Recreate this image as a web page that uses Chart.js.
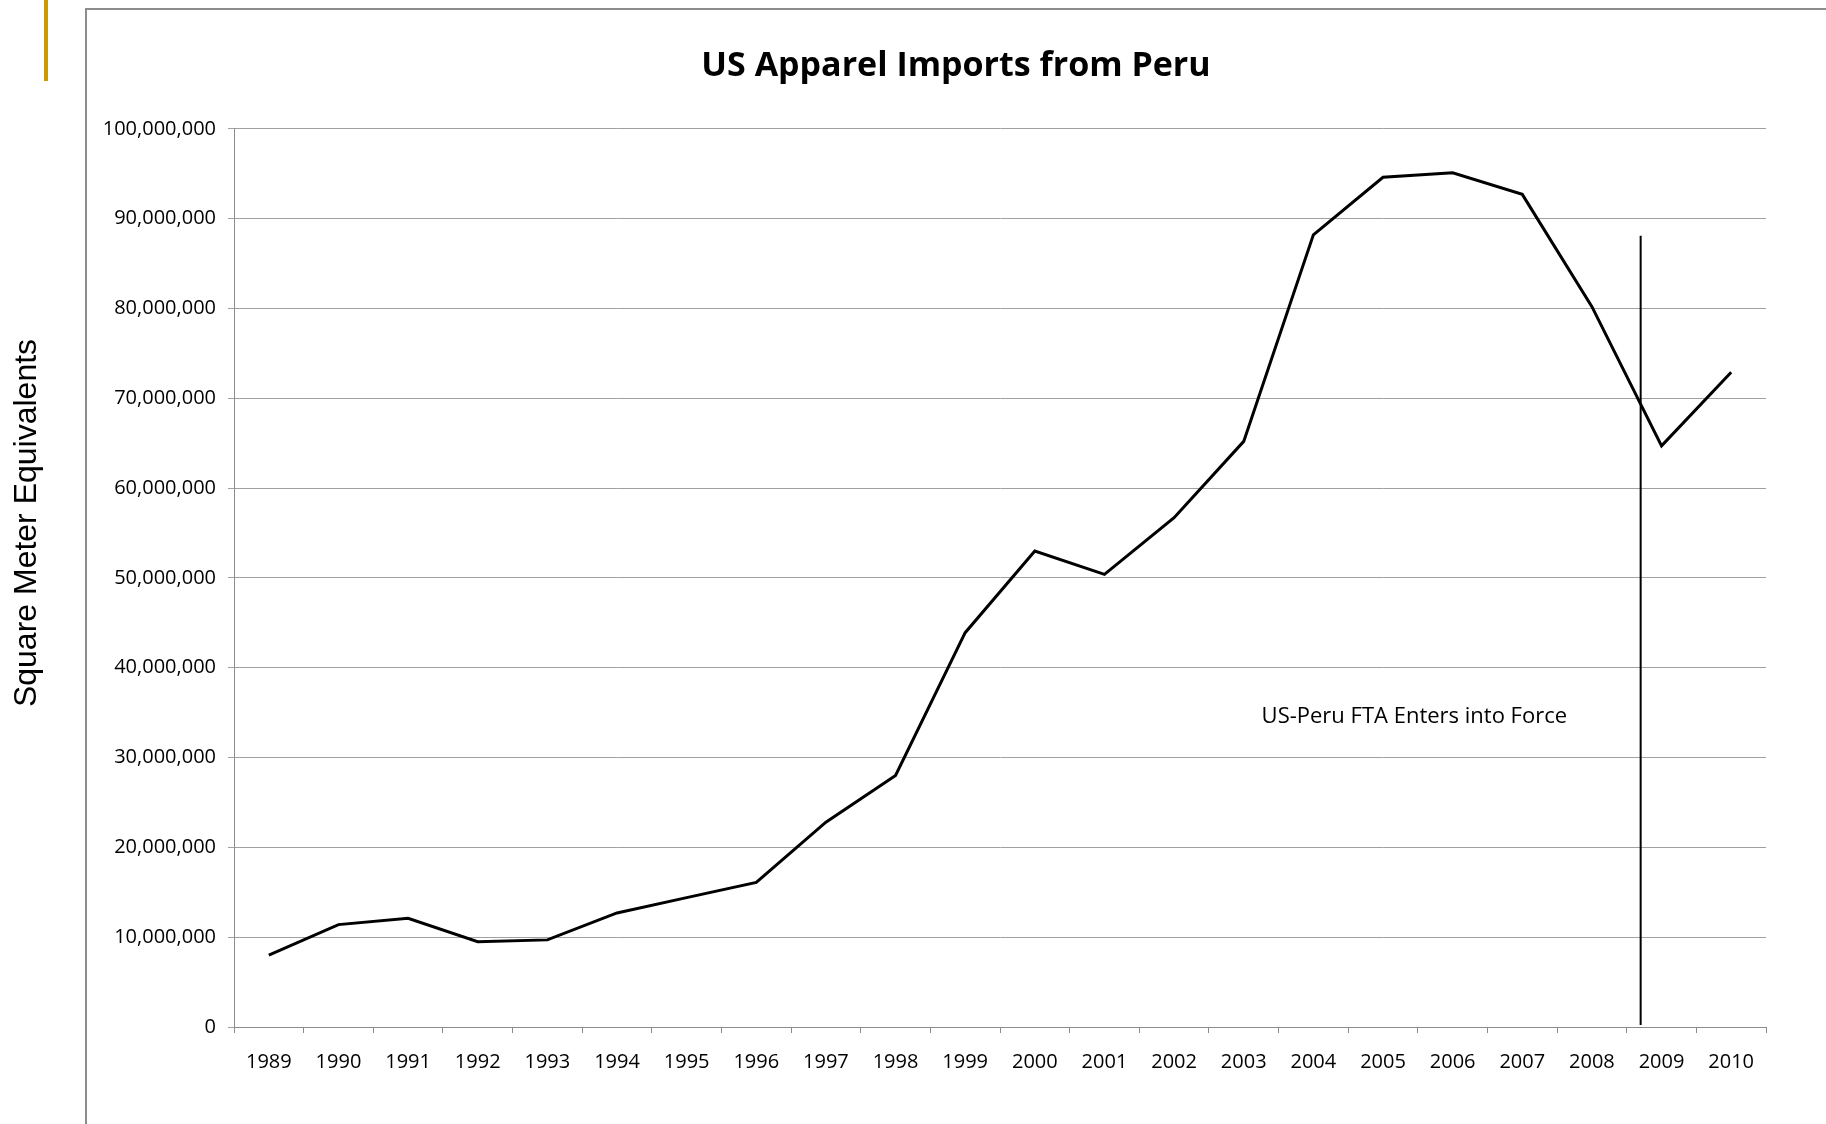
<!DOCTYPE html>
<html lang="en">
<head>
    <meta charset="UTF-8">
    <title>US Apparel Imports from Peru</title>
    <script src="https://cdn.jsdelivr.net/npm/chart.js@4.4.0/dist/chart.umd.min.js"></script>
    <style>
        body {
            margin: 0;
            background: #fff;
        }
        .page {
            position: relative;
            width: 1826px;
            height: 1124px;
            overflow: hidden;
        }
        /* slide decoration: gold bar and the chart frame */
        .gold-bar {
            position: absolute;
            left: 44px;
            top: 0;
            width: 4px;
            height: 81px;
            background: #CC9900;
        }
        .frame {
            position: absolute;
            left: 85px;
            top: 8px;
            right: -4px;
            bottom: -4px;
            border-left: 2px solid #8c8c8c;
            border-top: 2px solid #8c8c8c;
        }
        canvas {
            position: absolute;
            left: 0;
            top: 0;
        }
    </style>
</head>
<body>
<div class="page">
    <div class="gold-bar"></div>
    <div class="frame"></div>
    <canvas id="importsChart" width="1826" height="1124"></canvas>
</div>

<script>
    // data (square meter equivalents)
    const years = ['1989', '1990', '1991', '1992', '1993', '1994', '1995', '1996', '1997', '1998', '1999',
                   '2000', '2001', '2002', '2003', '2004', '2005', '2006', '2007', '2008', '2009', '2010'];
    const imports = [8.0e6, 11.4e6, 12.1e6, 9.5e6, 9.7e6, 12.7e6, 14.4e6, 16.1e6, 22.8e6, 28.0e6, 43.9e6,
                     53.0e6, 50.4e6, 56.7e6, 65.2e6, 88.2e6, 94.6e6, 95.1e6, 92.7e6, 80.2e6, 64.7e6, 72.9e6];
    const yMax = 100000000;
    const yStep = 10000000;

    // FTA marker: category position (just after the 2008/2009 boundary) and the line's top value
    const ftaIndex = 19.7;
    const ftaTop = 88.1e6;
    const ftaNote = 'US-Peru FTA Enters into Force';
    const noteIndex = 16.45;
    const noteValue = 34.5e6;

    const axisTitle = 'Square Meter Equivalents';

    Chart.defaults.font.family = "'Open Sans', sans-serif";
    Chart.defaults.color = '#000';

    const ftaMarker = {
        id: 'ftaMarker',
        afterDatasetsDraw(chart) {
            const {ctx, scales: {x, y}} = chart;
            const px = x.getPixelForValue(ftaIndex);
            ctx.save();
            ctx.strokeStyle = '#000';
            ctx.lineWidth = 2;
            ctx.beginPath();
            ctx.moveTo(px, y.getPixelForValue(ftaTop));
            ctx.lineTo(px, y.getPixelForValue(0) - 2);
            ctx.stroke();

            ctx.fillStyle = '#000';
            ctx.font = "22px 'Open Sans', sans-serif";
            ctx.textAlign = 'center';
            ctx.textBaseline = 'middle';
            ctx.fillText(ftaNote, x.getPixelForValue(noteIndex), y.getPixelForValue(noteValue));
            ctx.restore();
        }
    };

    // the value-axis title sits outside the frame, left of the plot
    const sideTitle = {
        id: 'sideTitle',
        afterDraw(chart) {
            const ctx = chart.ctx;
            ctx.save();
            ctx.translate(27, 523);
            ctx.rotate(-Math.PI / 2);
            ctx.fillStyle = '#000';
            ctx.font = "32px 'Liberation Sans', Arial, sans-serif";
            ctx.textAlign = 'center';
            ctx.textBaseline = 'middle';
            ctx.fillText(axisTitle, 0, 0);
            ctx.restore();
        }
    };

    new Chart(document.getElementById('importsChart'), {
        type: 'line',
        data: {
            labels: years,
            datasets: [{
                label: 'Imports',
                data: imports,
                borderColor: '#000',
                borderWidth: 3,
                pointRadius: 0,
                tension: 0,
                fill: false
            }]
        },
        options: {
            responsive: false,
            animation: false,
            layout: {
                // left edge = frame, so the title centres on the frame
                padding: {left: 86, right: 0, top: 0, bottom: 0}
            },
            plugins: {
                legend: {display: false},
                tooltip: {enabled: false},
                title: {
                    display: true,
                    text: 'US Apparel Imports from Peru',
                    font: {size: 34, weight: 'bold'},
                    color: '#000',
                    padding: {top: 46, bottom: 42}
                }
            },
            scales: {
                x: {
                    offset: true,
                    afterFit(s) { s.height = 97; },
                    grid: {
                        offset: true,
                        drawOnChartArea: false,
                        tickLength: 6,
                        color: '#8c8c8c'
                    },
                    border: {color: '#8c8c8c'},
                    ticks: {
                        font: {size: 20},
                        padding: 17,
                        maxRotation: 0,
                        autoSkip: false
                    }
                },
                y: {
                    min: 0,
                    max: yMax,
                    afterFit(s) { s.width = 148; },
                    grid: {
                        color: '#a0a0a0',
                        tickLength: 6
                    },
                    border: {color: '#8c8c8c'},
                    ticks: {
                        stepSize: yStep,
                        padding: 12,
                        font: {size: 20},
                        callback: v => v.toLocaleString('en-US')
                    }
                },
                // empty right margin between plot and frame edge
                spacer: {
                    position: 'right',
                    afterFit(s) { s.width = 60; },
                    grid: {display: false},
                    border: {display: false},
                    ticks: {display: false}
                }
            }
        },
        plugins: [ftaMarker, sideTitle]
    });
</script>
</body>
</html>
